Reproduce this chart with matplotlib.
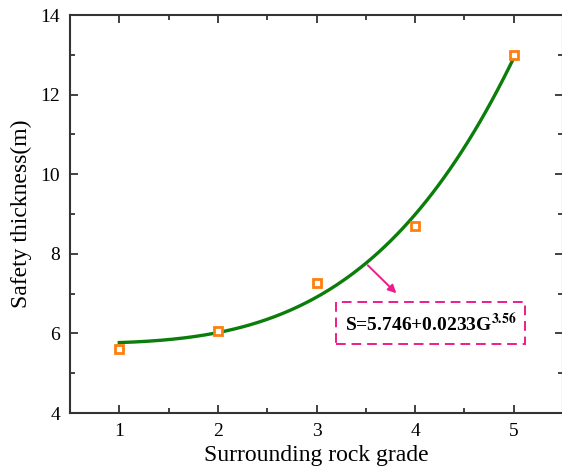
import numpy as np
import matplotlib
matplotlib.use('Agg')
import matplotlib.pyplot as plt
from matplotlib.ticker import MultipleLocator

plt.rcParams['font.family'] = ['Liberation Serif', 'DejaVu Serif']
plt.rcParams['mathtext.fontset'] = 'stix'

grade = [1, 2, 3, 4, 5]
thickness = [5.6, 6.07, 7.27, 8.7, 13.0]
# fit S = a + b*G^c
a, b, c = 5.746, 0.0233, 3.56

fig = plt.figure(figsize=(5.62, 4.75), dpi=100)
ax = fig.add_axes([70/562, 62/475, 493/562, 398/475])

g = np.linspace(1, 5, 200)
ax.plot(g, a + b*g**c, color='#0a7d0a', lw=2.4, zorder=2)
ax.plot(grade, thickness, ls='none', marker='s', ms=5.5, mfc='white',
        mec='#ff7f0e', mew=2.0, zorder=3)

ax.set_xlim(0.5, 5.5)
ax.set_ylim(4, 14)
ax.xaxis.set_major_locator(MultipleLocator(1))
ax.xaxis.set_minor_locator(MultipleLocator(0.5))
ax.yaxis.set_major_locator(MultipleLocator(2))
ax.yaxis.set_minor_locator(MultipleLocator(1))
ax.tick_params(which='both', direction='in', top=True, right=True,
               color='#333333', width=1.3, labelsize=14, pad=7)
ax.tick_params(which='major', length=6)
ax.tick_params(which='minor', length=3.5)
for s in ax.spines.values():
    s.set_linewidth(1.5)
    s.set_color('#333333')

ax.set_xlabel('Surrounding rock grade', fontsize=17, labelpad=4)
ax.set_ylabel('Safety thickness(m)', fontsize=17, labelpad=6)

xa = 3.5
ax.annotate('', xy=(3.83, 6.96), xytext=(xa, a + b*xa**c),
            arrowprops=dict(arrowstyle='-|>', color='#ec1c8c', lw=1.4,
                            mutation_scale=12))
ax.text(4.16, 6.26, r'S=5.746+0.0233G$^{\mathbf{3.56}}$', fontsize=14,
        fontweight='bold', ha='center', va='center',
        bbox=dict(boxstyle='square,pad=0.45', fc='white', ec='#ec1c8c',
                  ls=(0, (5, 3)), lw=1.4))

fig.savefig('out.png', dpi=100)
